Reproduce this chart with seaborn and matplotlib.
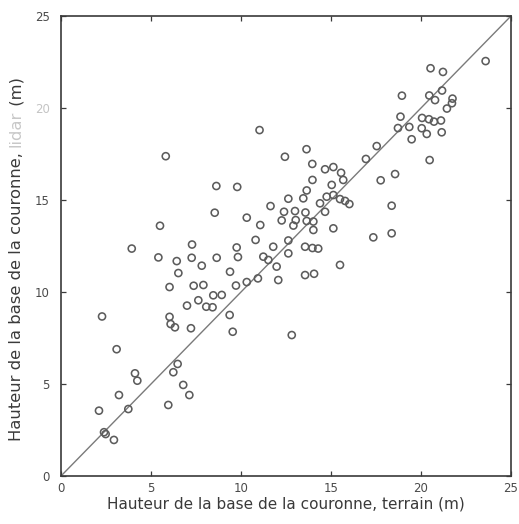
import matplotlib
matplotlib.use("Agg")
import matplotlib.pyplot as plt
import seaborn as sns
import pandas as pd

# ---- data (field vs lidar crown base height, m) ----
field_h = [23.59, 20.53, 21.22, 18.94, 20.46, 21.17, 20.78, 21.75, 21.72, 21.44,
           18.86, 18.72, 19.35, 20.06, 20.44, 20.72, 21.11, 20.04, 20.32, 21.15,
           19.48, 17.54, 16.94, 20.48, 18.56, 17.76, 11.03, 5.82, 13.64, 12.44,
           13.96, 14.67, 15.13, 15.56, 13.97, 15.68, 15.04, 8.63, 9.79, 13.65,
           13.46, 12.63, 14.76, 15.13, 15.50, 15.78, 16.02, 14.39, 14.67, 11.64,
           18.37, 8.54, 10.32, 12.39, 13.00, 13.58, 12.26, 13.04, 13.65, 14.02,
           12.91, 11.07, 5.50, 14.02, 15.13, 17.35, 18.37, 10.81, 12.63, 7.28,
           3.93, 9.76, 11.79, 13.56, 13.97, 14.29, 5.41, 6.43, 7.26, 8.65,
           9.83, 11.24, 12.63, 11.52, 7.82, 11.98, 15.50, 6.52, 9.39, 13.56,
           14.06, 10.94, 12.07, 10.32, 9.72, 6.03, 7.37, 7.91, 8.46, 8.93,
           7.63, 7.00, 8.07, 8.42, 2.28, 6.03, 9.37, 6.09, 6.33, 7.22,
           9.54, 12.82, 3.09, 6.48, 6.24, 4.11, 4.24, 6.79, 7.13, 3.22,
           2.11, 3.74, 5.96, 2.39, 2.48, 2.94]
lidar_h = [22.55, 22.16, 21.96, 20.67, 20.68, 20.95, 20.43, 20.51, 20.26, 19.97,
           19.53, 18.91, 18.97, 19.46, 19.39, 19.26, 19.32, 18.90, 18.59, 18.68,
           18.30, 17.93, 17.23, 17.17, 16.41, 16.07, 18.80, 17.38, 17.76, 17.35,
           16.96, 16.67, 16.79, 16.48, 16.09, 16.09, 15.82, 15.76, 15.71, 15.52,
           15.09, 15.07, 15.18, 15.27, 15.05, 14.95, 14.78, 14.82, 14.36, 14.67,
           14.69, 14.31, 14.04, 14.36, 14.40, 14.32, 13.89, 13.91, 13.86, 13.83,
           13.61, 13.64, 13.60, 13.37, 13.46, 12.97, 13.19, 12.83, 12.80, 12.58,
           12.36, 12.42, 12.46, 12.46, 12.39, 12.36, 11.88, 11.68, 11.86, 11.86,
           11.90, 11.92, 12.10, 11.74, 11.43, 11.38, 11.47, 11.03, 11.10, 10.92,
           10.99, 10.74, 10.65, 10.54, 10.35, 10.27, 10.34, 10.38, 9.82, 9.84,
           9.55, 9.26, 9.20, 9.17, 8.67, 8.65, 8.75, 8.26, 8.08, 8.03,
           7.84, 7.66, 6.89, 6.09, 5.64, 5.58, 5.18, 4.95, 4.40, 4.40,
           3.55, 3.64, 3.86, 2.38, 2.28, 1.96]
tick_values = [0, 5, 10, 15, 20, 25]
tick_labels = ["0", "5", "10", "15", "20", "25"]
xlabel_text = "Hauteur de la base de la couronne, terrain (m)"
ylabel_parts = ["Hauteur de la base de la couronne, ", "lidar", " (m)"]

df = pd.DataFrame({"terrain": field_h, "lidar": lidar_h})

sns.set_theme(style="white")
plt.rcParams["font.family"] = ["DejaVu Sans"]

W, H = 519, 524
fig = plt.figure(figsize=(W / 100, H / 100), dpi=100)
ax = fig.add_axes([61 / W, 48 / H, 450 / W, 460 / H])

dark = "#3a3a3a"
pt_col = "#5c5c5c"

ax.axline((0, 0), slope=1, color="#7a7a7a", lw=1.0, zorder=1)
sns.scatterplot(data=df, x="terrain", y="lidar", ax=ax, marker="o", s=26,
                facecolor="none", edgecolor=pt_col, linewidth=1.15, zorder=2)

ax.set_xlim(0, 25)
ax.set_ylim(0, 25)
ax.set_xticks(tick_values)
ax.set_yticks(tick_values)
ax.set_xticklabels(tick_labels)
ax.set_yticklabels(tick_labels)
ax.tick_params(axis="both", direction="in", length=3.5, width=0.9, color=dark,
               labelsize=8.5, labelcolor="#4a4a4a", top=True, right=True,
               bottom=True, left=True)
ax.tick_params(axis="x", pad=4)
ax.tick_params(axis="y", pad=8)
for lab in ax.get_yticklabels():
    if lab.get_text() == "20":
        lab.set_color("#c4c4c4")
for sp in ax.spines.values():
    sp.set_visible(True)
    sp.set_color(dark)
    sp.set_linewidth(1.2)

ax.set_xlabel(xlabel_text, fontsize=11, color=dark, labelpad=1.5)
ax.set_ylabel("")

# y label built from pieces so that the word "lidar" can be faded as in the scan
fig.canvas.draw()
renderer = fig.canvas.get_renderer()
fs = 11.8
widths = []
for p in ylabel_parts:
    t = fig.text(0, 0, p.replace(" ", "\u00a0"), fontsize=fs)
    widths.append(t.get_window_extent(renderer).width)
    t.remove()
total = sum(widths)
center_y = H - 259
x_base = 21
y0 = center_y - total / 2
colors = [dark, "#c8c8c8", dark]
for p, w, c in zip(ylabel_parts, widths, colors):
    fig.text(x_base / W, y0 / H, p.replace(" ", "\u00a0"), fontsize=fs, color=c,
             rotation=90, rotation_mode="anchor", ha="left", va="baseline")
    y0 += w

fig.savefig("out.png", dpi=100)
